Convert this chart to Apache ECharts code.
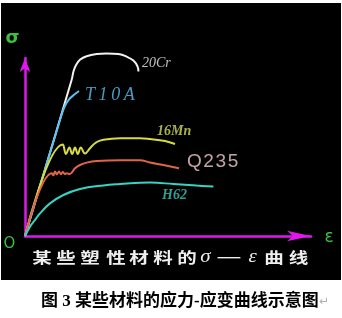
<!DOCTYPE html>
<html><head><meta charset="utf-8">
<script src="https://cdn.jsdelivr.net/npm/echarts@6/dist/echarts.min.js"></script>
<style>html,body{margin:0;padding:0;background:#fff;}#c{width:342px;height:318px;}</style>
</head><body><div id="c"></div>
<script>
// schematic strain (ε) / stress (σ) units
const cr20 = [[0,0],[23.3,78],[24.3,82.5],[25.6,85.6],[27.6,88.2],[30.8,89.9],[35.8,91],[40.8,91.3],[46.7,91],[50.8,89.7],[54.2,87.7],[56.3,84.7],[56.7,82.2]];
const t10a = [[0,0],[17.5,58],[19.5,64],[22,68.3],[25,71],[27,72.5]];
const mn16 = [[0,0],[18.9,45.7],[20.5,41],[22.2,44.2],[23.6,41],[25,44.2],[26.4,41],[27.9,44.2],[30,41.2],[32.5,43.9],[35,46.4],[37.5,47.7],[42.5,48.5],[47.5,48.9],[57.5,48.9],[62.5,48.5],[70,47.5],[75,46]];
const q235 = [[0,0],[13.4,31.4],[14.2,30.4],[15,32.3],[15.9,30.8],[17,32.3],[17.9,30.9],[18.9,32],[20,31],[20.9,31.4],[22.2,31],[23.4,31.7],[25,33.9],[27.5,35.5],[30.9,36.7],[35.9,37.5],[47.5,37.9],[57.5,37.9],[62.5,36.7],[69.2,35.5],[77,33.9]];
const h62 = [[0,0],[2.5,4.7],[5,8],[7.5,11.3],[12.5,16.3],[19.2,20.5],[27.5,23.5],[39.2,25.3],[47.5,26],[57.5,26.6],[62.5,26.7],[74.2,26],[85.8,25.2],[94.2,24.7]];
const seriesNames = ['20Cr','T10A','16Mn','Q235','H62'];
const labelTexts = ['20Cr','T\u20091\u20090\u2009A','16Mn','Q\u200A2\u200A3\u200A5','H62'];
const labelAnchors = [[58.5,86.5],[30,70.5],[66,52.5],[81,37],[68.5,20.5]];
const captionChars = ['某','些','塑','性','材','料','的','σ','—','ε','曲','线'];
const figCaption = '图 3 某些材料的应力-应变曲线示意图';

const colors = ['#f2f2f2','#5cc0ee','#d6dc40','#e0644c','#36d4c2'];
const labelColors = ['#eeeeee','#5cc0ee','#d4dc60','#f2cccc','#36c8b8'];
const labelFonts = [
  {fontStyle:'italic',fontSize:14,fontFamily:'Liberation Serif'},
  {fontStyle:'italic',fontSize:18,fontFamily:'Liberation Serif'},
  {fontStyle:'italic',fontSize:14,fontFamily:'Liberation Serif',fontWeight:'bold'},
  {fontStyle:'normal',fontSize:19,fontFamily:'Liberation Sans'},
  {fontStyle:'italic',fontSize:14,fontFamily:'Liberation Serif',fontWeight:'bold'}
];
const captionX = [42,66,90,116,139,163,187,205.5,229,252.5,274,298.5];

const chart = echarts.init(document.getElementById('c'), null, {renderer:'canvas'});
const dataSets = [cr20,t10a,mn16,q235,h62];
const smooths = [0.4,0.35,0.4,0.4,0.4];
const lineSeries = dataSets.map((d,i)=>({
  type:'line', name:seriesNames[i], data:d, showSymbol:false, smooth:smooths[i], clip:false,
  lineStyle:{color:colors[i], width:2}, z:3
}));
const labelSeries = {
  type:'scatter', symbolSize:0, clip:false, silent:true, z:4,
  data: labelAnchors.map((a,i)=>({value:a, label:Object.assign({show:true, position:'right', distance:0, formatter:labelTexts[i], color:labelColors[i]}, labelFonts[i])}))
};
const magenta = '#e018ec';
const green = '#3cc040';
const graphics = [
  {type:'rect', z:-10, shape:{x:1,y:3,width:340,height:277}, style:{fill:'#000'}},
  {type:'text', z:5, x:12.5, y:38, style:{text:'σ', fill:green, font:'bold 18px "DejaVu Sans"', align:'center', verticalAlign:'middle', textAlign:'center', textVerticalAlign:'middle'}},
  {type:'text', z:5, x:329, y:238, style:{text:'ε', fill:green, font:'17px "DejaVu Sans"', align:'center', verticalAlign:'middle', textAlign:'center', textVerticalAlign:'middle'}},
  {type:'text', z:5, x:9.5, y:244, style:{text:'O', fill:green, font:'15px "DejaVu Sans"', align:'center', verticalAlign:'middle', textAlign:'center', textVerticalAlign:'middle'}},
  {type:'text', z:5, x:41, y:302, style:{text:figCaption, fill:'#000', font:'bold 17px "Liberation Serif","Noto Sans CJK SC"', align:'left', verticalAlign:'middle', textAlign:'left', textVerticalAlign:'middle'}},
  {type:'text', z:5, x:319, y:302, style:{text:'↵', fill:'#b0b0b0', font:'12px "DejaVu Sans"', align:'left', verticalAlign:'middle', textAlign:'left', textVerticalAlign:'middle'}}
];
captionChars.forEach((ch,i)=>{
  let font = 'bold 15px "Noto Sans CJK SC"', sx = 1.3;
  if (ch==='σ' || ch==='ε') { font = 'italic 19px "Liberation Serif"'; sx = 1.1; }
  if (ch==='—') { font = 'bold 14px "Noto Sans CJK SC"'; sx = 2.0; }
  graphics.push({type:'text', z:5, x:captionX[i], y:257, scaleX:sx, style:{text:ch, fill:'#eeeeee', font:font, align:'center', verticalAlign:'middle', textAlign:'center', textVerticalAlign:'middle'}});
});

chart.setOption({
  backgroundColor:'#ffffff',
  animation:false,
  grid:{left:25, top:58, right:31, bottom:82},
  xAxis:{type:'value', min:0, max:143, axisLabel:{show:false}, axisTick:{show:false}, splitLine:{show:false},
    axisLine:{show:true, onZero:false, symbol:['none','arrow'], symbolSize:[8,24], lineStyle:{color:magenta, width:2.5}}},
  yAxis:{type:'value', min:0, max:89, axisLabel:{show:false}, axisTick:{show:false}, splitLine:{show:false},
    axisLine:{show:true, onZero:false, symbol:['none','arrow'], symbolSize:[8,14], lineStyle:{color:magenta, width:2.5}}},
  series: lineSeries.concat([labelSeries]),
  graphic: graphics
});
</script></body></html>
